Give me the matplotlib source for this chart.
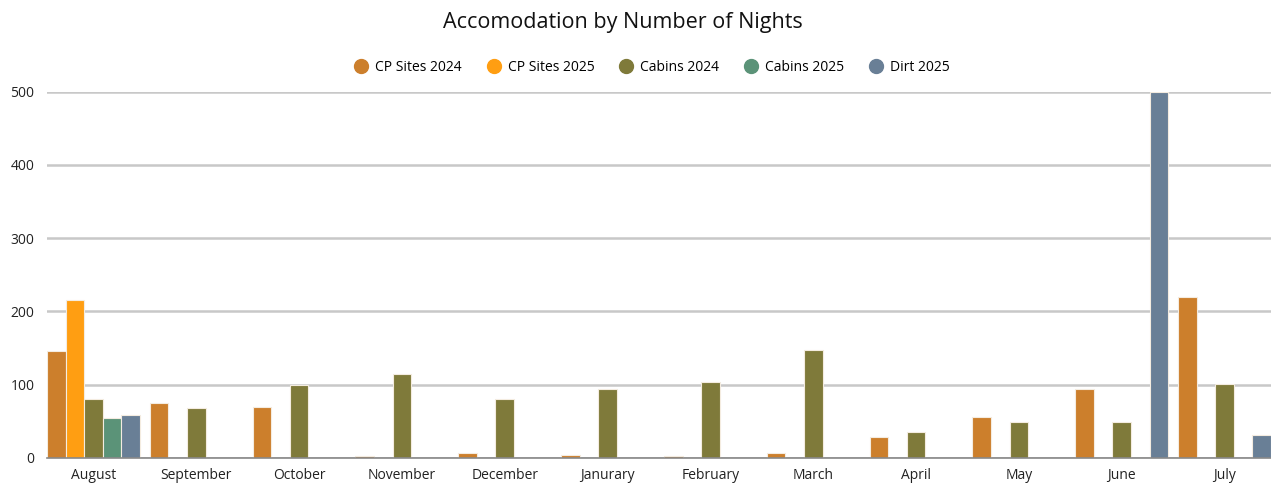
"""
Accomodation by Number of Nights - grouped bar chart by month.
"""

import matplotlib
matplotlib.use("Agg")
import matplotlib.pyplot as plt
from matplotlib.lines import Line2D
import numpy as np

plt.rcParams["font.family"] = ["Open Sans", "DejaVu Sans"]

# ---------------------------------------------------------------------------
# Data
# ---------------------------------------------------------------------------
months = ["August", "September", "October", "November", "December", "Janurary",
          "February", "March", "April", "May", "June", "July"]
series_names = ["CP Sites 2024", "CP Sites 2025", "Cabins 2024", "Cabins 2025", "Dirt 2025"]

cp_sites_2024 = [146, 75, 70, 2, 7, 4, 3, 7, 29, 56, 94, 220]
cp_sites_2025 = [216, 0, 0, 0, 0, 0, 0, 0, 0, 0, 0, 0]
cabins_2024 = [81, 68, 99, 114, 81, 94, 104, 148, 36, 49, 49, 101]
cabins_2025 = [54, 0, 0, 0, 0, 0, 0, 0, 0, 0, 0, 0]
dirt_2025 = [59, 0, 0, 0, 0, 0, 0, 0, 0, 0, 500, 31]

colors = ["#CC7F2C", "#FF9E12", "#7F7A3A", "#5B9378", "#697F96"]

# ---------------------------------------------------------------------------
# Plot
# ---------------------------------------------------------------------------
fig = plt.figure(figsize=(12.71, 4.83), dpi=100)
ax = fig.add_axes([0.037, 0.052, 0.963, 0.758])

all_series = [cp_sites_2024, cp_sites_2025, cabins_2024, cabins_2025, dirt_2025]
x = np.arange(len(months))
group_w = 0.905
bar_w = group_w / len(all_series)

for i, (vals, col) in enumerate(zip(all_series, colors)):
    offs = -group_w / 2 + bar_w * (i + 0.5)
    # empty months get no bar (avoid stray edge lines at zero)
    v = np.array(vals, dtype=float)
    v[v == 0] = np.nan
    ax.bar(x + offs, v, width=bar_w, color=col, edgecolor="#f4ece0",
           linewidth=0.8, zorder=3)

ax.set_xlim(-group_w / 2, len(months) - 1 + group_w / 2)
ax.set_ylim(0, 500)
ax.set_yticks([0, 100, 200, 300, 400, 500])
ax.set_xticks(x)
ax.set_xticklabels(months)
ax.tick_params(axis="both", length=0, labelsize=10, colors="#222222")
ax.tick_params(axis="y", pad=9)
ax.tick_params(axis="x", pad=7)

ax.yaxis.grid(True, color="#c8c8c8", linewidth=1.8, zorder=0)
ax.set_axisbelow(True)
for side in ["left", "right", "top"]:
    ax.spines[side].set_visible(False)
ax.spines["bottom"].set_color("#888888")
ax.spines["bottom"].set_linewidth(1.2)
ax.spines["bottom"].set_zorder(4)

fig.suptitle("Accomodation by Number of Nights", x=0.49, y=0.975,
             fontsize=15.5, color="#111111")

handles = [Line2D([], [], marker="o", linestyle="none", markersize=10,
                  markerfacecolor=c, markeredgecolor=c) for c in colors]
fig.legend(handles, series_names, loc="center", bbox_to_anchor=(0.513, 0.86),
           ncol=5, frameon=False, fontsize=10, handletextpad=0.5,
           columnspacing=1.8, handlelength=1.0)

plt.savefig("out.png", dpi=100)
plt.close()
